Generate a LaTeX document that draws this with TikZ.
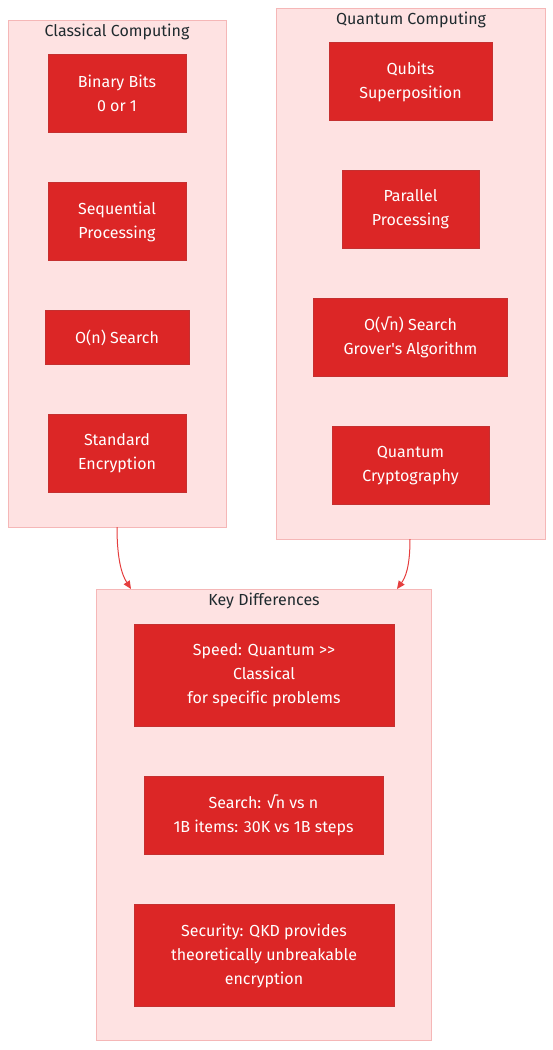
\documentclass[tikz,border=0pt]{standalone}
\usepackage{fontspec}
\setmainfont{Fira Sans}[Ligatures=NoCommon]
\usetikzlibrary{arrows.meta}
\definecolor{boxred}{HTML}{DC2626}
\definecolor{boxline}{HTML}{C53030}
\definecolor{clfill}{HTML}{FEE2E2}
\definecolor{clline}{HTML}{F5B7B7}
\definecolor{titlec}{HTML}{1F2A2E}
\definecolor{arrowc}{HTML}{E53E3E}
\begin{document}
\begin{tikzpicture}[x=1pt,y=-1pt,
  cluster/.style={draw=clline,fill=clfill,line width=0.8pt},
  ctitle/.style={text=titlec,font=\fontsize{16}{19}\selectfont,anchor=center,inner sep=0pt},
  rbox/.style={draw=boxline,fill=boxred,line width=0.6pt,text=white,font=\fontsize{16}{24}\selectfont,align=center,inner sep=0pt},
  link/.style={draw=arrowc,line width=1pt,-{Triangle[length=8pt,width=7pt]}}]
\useasboundingbox (0,0) rectangle (553,1050);
% clusters
\draw[cluster] (8,20) rectangle (226,527);
\draw[cluster] (276,8) rectangle (545,539);
\draw[cluster] (96,589) rectangle (431,1040);
\coordinate (cA) at (117,527);
\coordinate (cB) at (410,539);
\coordinate (kA) at (131,589);
\coordinate (kB) at (397,589);
\node[ctitle] (t1) at (117,31.5) {Classical Computing};
\node[ctitle] (t2) at (411,19.5) {Quantum Computing};
\node[ctitle] (t3) at (264,600.5) {Key Differences};
% classical
\node[rbox,minimum width=138pt,minimum height=78pt] (c1) at (117,93.5) {Binary Bits\\0 or 1};
\node[rbox,minimum width=138pt,minimum height=78pt] (c2) at (117,221.5) {Sequential\\Processing};
\node[rbox,minimum width=144pt,minimum height=54pt] (c3) at (117,337.5) {O(n) Search};
\node[rbox,minimum width=138pt,minimum height=78pt] (c4) at (117,453.5) {Standard\\Encryption};
% quantum
\node[rbox,minimum width=163pt,minimum height=78pt] (q1) at (410.5,81.5) {Qubits\\Superposition};
\node[rbox,minimum width=137pt,minimum height=78pt] (q2) at (410.5,209.5) {Parallel\\Processing};
\node[rbox,minimum width=194pt,minimum height=78pt] (q3) at (410.5,337.5) {O(√n) Search\\Grover\textquotesingle s Algorithm};
\node[rbox,minimum width=157pt,minimum height=78pt] (q4) at (410.5,465.5) {Quantum\\Cryptography};
% key
\node[rbox,minimum width=260pt,minimum height=102pt] (k1) at (264,675.5) {Speed: Quantum {>}{>}\\Classical\\for specific problems};
\node[rbox,minimum width=239pt,minimum height=78pt] (k2) at (263.5,815.5) {Search: √n vs n\\1B items: 30K vs 1B steps};
\node[rbox,minimum width=260pt,minimum height=102pt] (k3) at (264,955.5) {Security: QKD provides\\theoretically unbreakable\\encryption};
% arrows
\draw[link] (cA) .. controls (117,560) and (122,575) .. (kA);
\draw[link] (cB) .. controls (410,568) and (405,578) .. (kB);
\end{tikzpicture}
\end{document}
